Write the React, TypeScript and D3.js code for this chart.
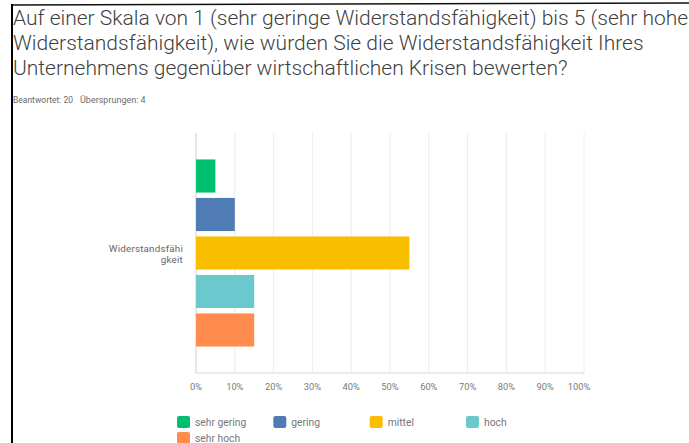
import React from "react";
import * as d3 from "d3";

const titleLines = [
  "Auf einer Skala von 1 (sehr geringe Widerstandsfähigkeit) bis 5 (sehr hohe",
  "Widerstandsfähigkeit), wie würden Sie die Widerstandsfähigkeit Ihres",
  "Unternehmens gegenüber wirtschaftlichen Krisen bewerten?",
];
const answeredLabel = "Beantwortet: 20";
const skippedLabel = "Übersprungen: 4";
const categories = ["Widerstandsfähigkeit"];
const categoryLabelLines = ["Widerstandsfähi", "gkeit"];
const seriesNames = ["sehr gering", "gering", "mittel", "hoch", "sehr hoch"];
const seriesValues = [5, 10, 55, 15, 15];
const seriesColors = ["#00BF6F", "#507CB6", "#F9BE00", "#6BC8CD", "#FF8B4F"];
const xTicks = [0, 10, 20, 30, 40, 50, 60, 70, 80, 90, 100];

const W = 689;
const H = 443;
const plot = { left: 196, right: 584, top: 133, bottom: 373 };
const font = "Roboto, 'Open Sans', sans-serif";

export default function App() {
  const x = d3.scaleLinear().domain([0, 100]).range([plot.left, plot.right]);
  const yCat = d3.scaleBand<string>().domain(categories).range([plot.top, plot.bottom]).padding(0);
  const ySer = d3
    .scaleBand<string>()
    .domain(seriesNames)
    .range([0, yCat.bandwidth()])
    .paddingInner(0.14)
    .paddingOuter(0.687);

  const legendX = d3.scalePoint<number>().domain([0, 1, 2, 3]).range([177, 466]);

  return (
    <div style={{ position: "absolute", left: 0, top: 0, width: W, height: H, background: "#fff" }}>
      <svg width={W} height={H} style={{ display: "block" }}>
        <rect x={0} y={0} width={W} height={H} fill="#fff" />
        {/* frame */}
        <line x1={11} y1={5} x2={W} y2={3} stroke="#111" strokeWidth={1.5} />
        <line x1={12} y1={4} x2={12} y2={H} stroke="#000" strokeWidth={2} />

        {titleLines.map((t, i) => (
          <text
            key={i}
            x={13}
            y={25 + i * 25}
            fontFamily={font}
            fontWeight={300}
            fontSize={21}
            fill="#3f3f3f"
          >
            {t}
          </text>
        ))}
        <text x={13} y={103} fontFamily={font} fontSize={8.5} fill="#6b6b6b">
          {answeredLabel}
        </text>
        <text x={80} y={103} fontFamily={font} fontSize={9} fill="#6b6b6b">
          {skippedLabel}
        </text>

        {/* grid */}
        {xTicks.map((t) => (
          <line
            key={t}
            x1={x(t)}
            x2={x(t)}
            y1={plot.top}
            y2={plot.bottom}
            stroke={t === 0 ? "#cfcfcf" : "#ececec"}
            strokeWidth={1}
          />
        ))}
        <line x1={plot.left} x2={plot.right} y1={plot.bottom} y2={plot.bottom} stroke="#d6d6d6" />

        {/* bars */}
        {categories.map((c) =>
          seriesNames.map((s, i) => (
            <rect
              key={c + s}
              x={x(0)}
              y={(yCat(c) ?? 0) + (ySer(s) ?? 0)}
              width={x(seriesValues[i]) - x(0)}
              height={ySer.bandwidth()}
              fill={seriesColors[i]}
            />
          ))
        )}

        {/* category label */}
        {categories.map((c) => {
          const cy = (yCat(c) ?? 0) + yCat.bandwidth() / 2;
          return (
            <text key={c} textAnchor="end" fontFamily={font} fontSize={9.8} fill="#666" letterSpacing={0.2}>
              {categoryLabelLines.map((l, i) => (
                <tspan key={i} x={183} y={cy - 1.5 + i * 11}>
                  {l}
                </tspan>
              ))}
            </text>
          );
        })}

        {/* x tick labels */}
        {xTicks.map((t) => (
          <text
            key={t}
            x={t === 100 ? x(t) - 5 : x(t)}
            y={389.5}
            textAnchor="middle"
            fontFamily={font}
            fontSize={9.3}
            fill="#7a7a7a"
          >
            {t}%
          </text>
        ))}

        {/* legend */}
        {seriesNames.map((s, i) => {
          const col = i % 4;
          const row = Math.floor(i / 4);
          const lx = legendX(col) ?? 0;
          const ly = 416 + row * 16;
          return (
            <g key={s}>
              <rect x={lx} y={ly} width={13} height={12} rx={2} fill={seriesColors[i]} />
              <text x={lx + 18} y={ly + 9.5} fontFamily={font} fontSize={10.3} fill="#777">
                {s}
              </text>
            </g>
          );
        })}
      </svg>
    </div>
  );
}
